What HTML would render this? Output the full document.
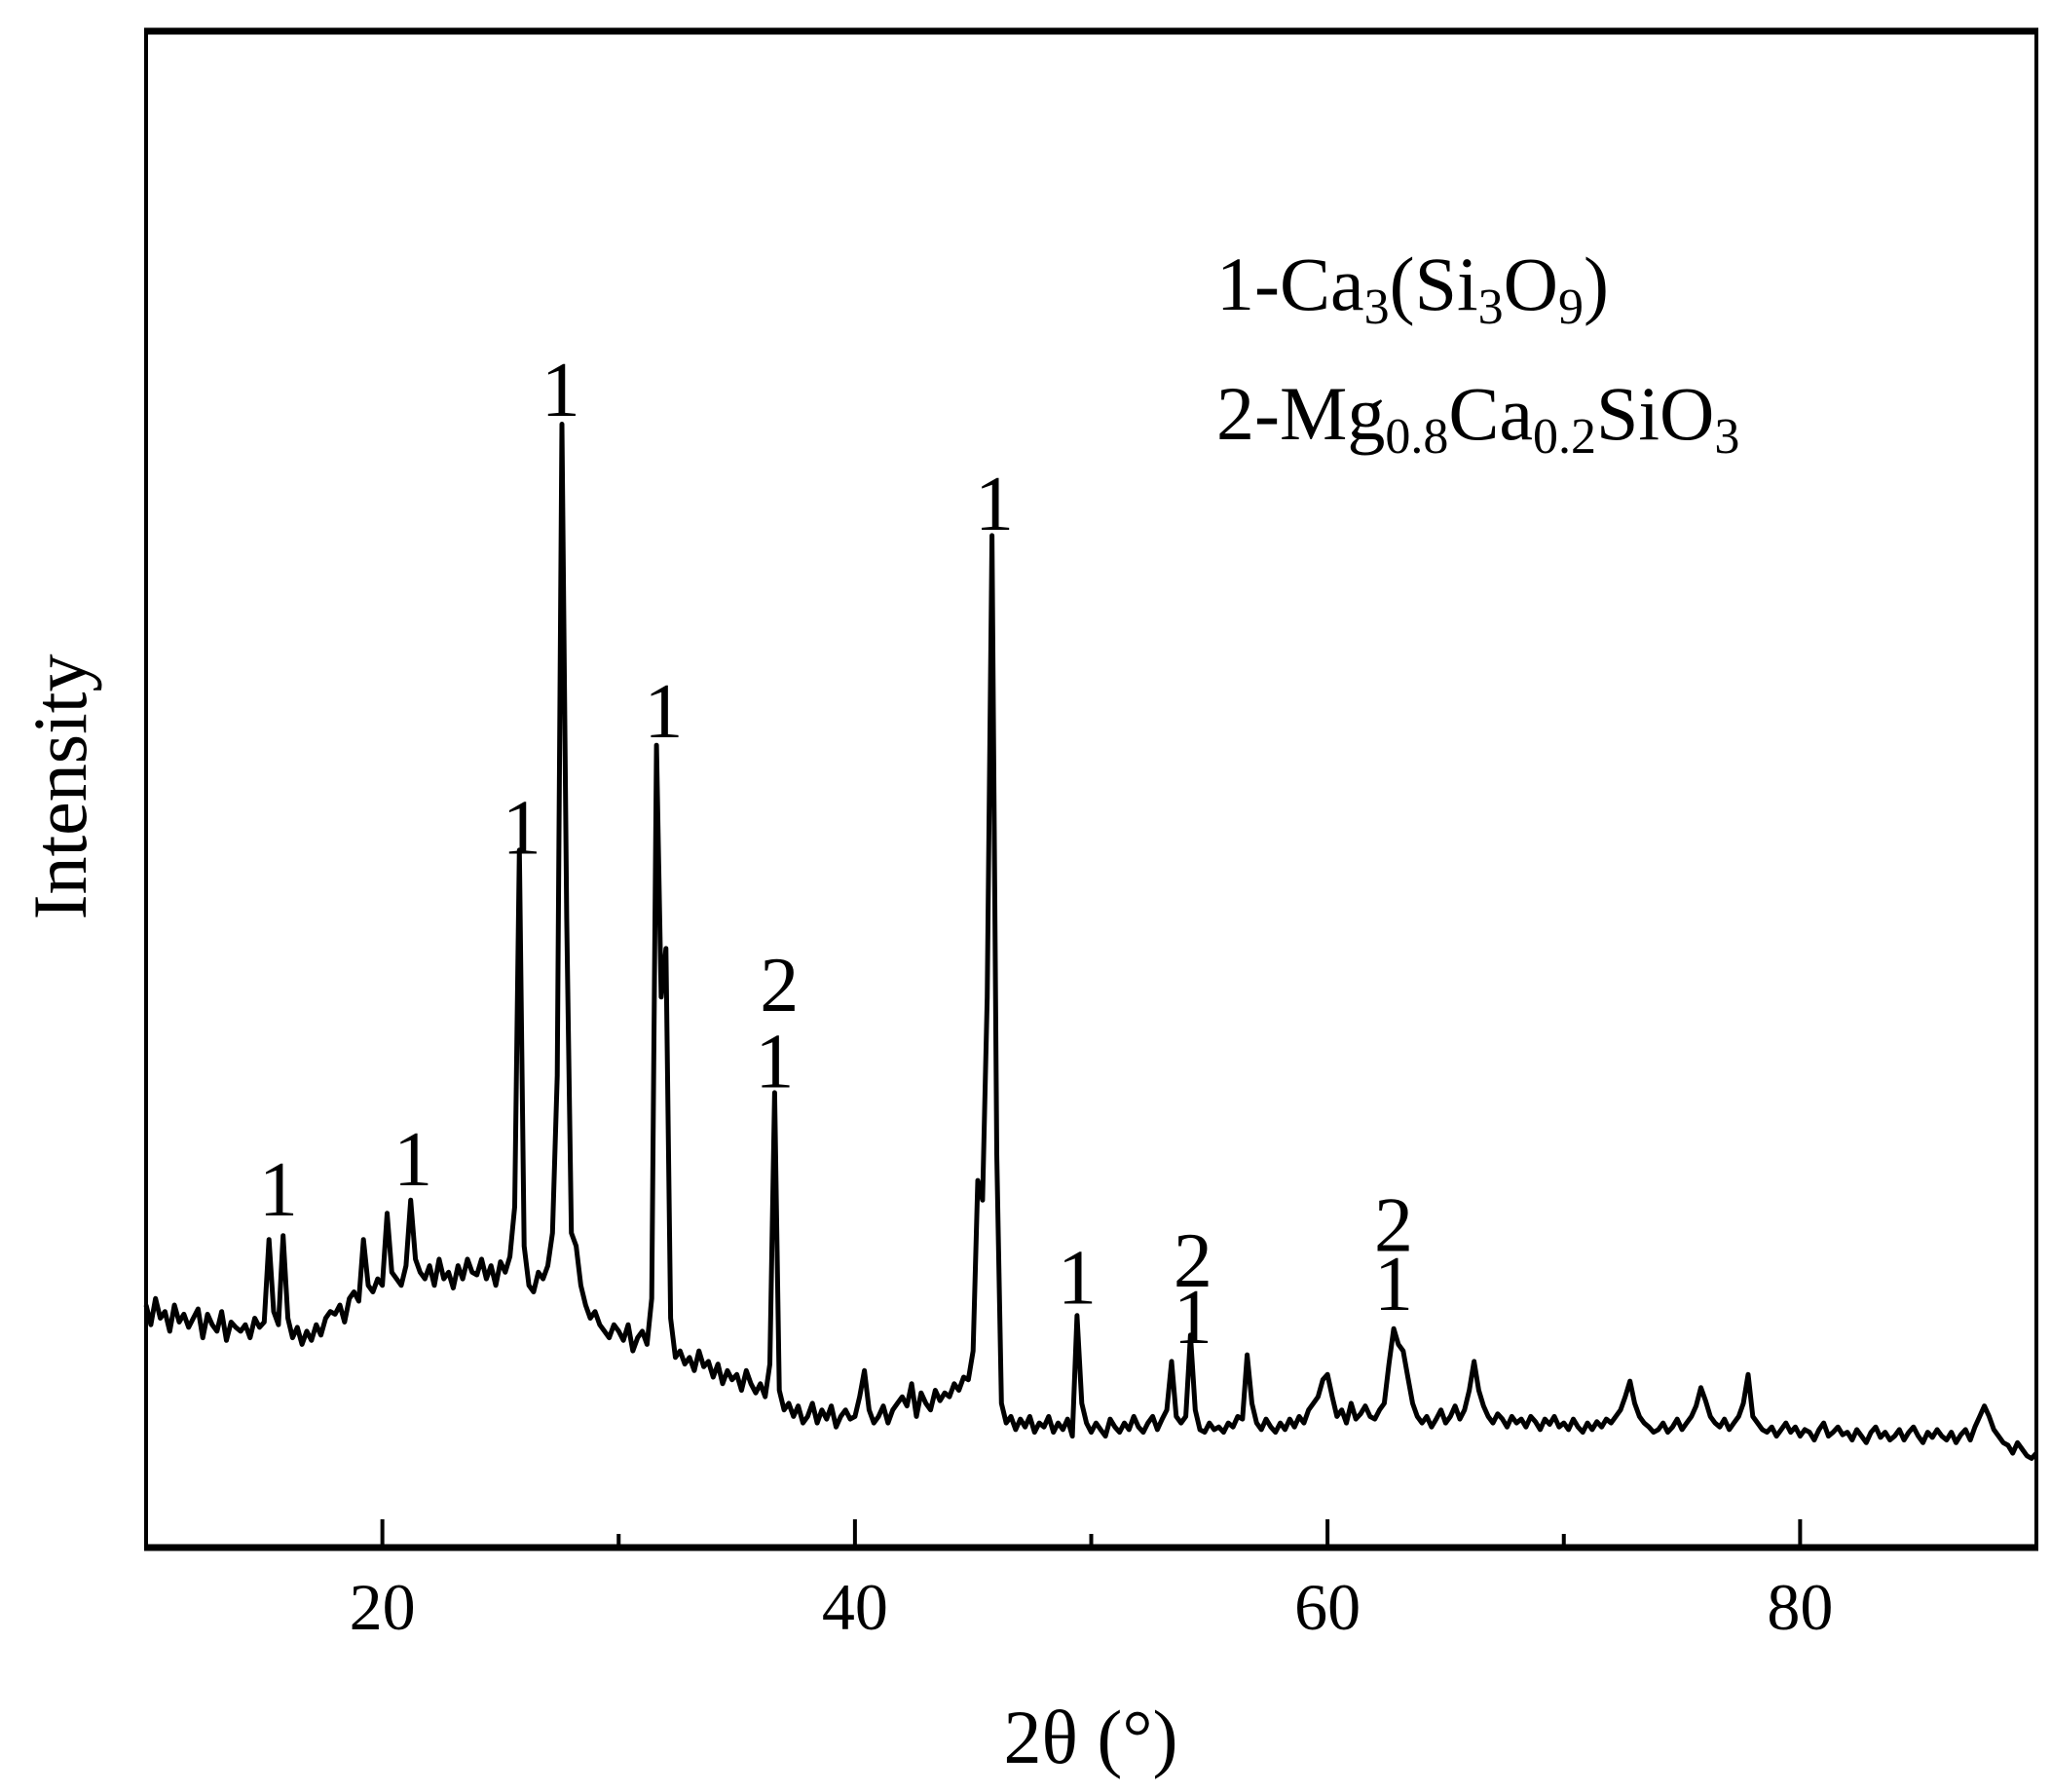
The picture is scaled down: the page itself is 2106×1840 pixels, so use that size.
<!DOCTYPE html>
<html><head><meta charset="utf-8"><style>
html,body{margin:0;padding:0;background:#fff;}
svg{display:block;font-family:"Liberation Serif",serif;}
</style></head><body>
<svg id="chart" width="2106" height="1840" viewBox="0 0 2106 1840" xmlns="http://www.w3.org/2000/svg">
<g id="plot"></g>
<g id="axes"></g>
<g id="labels"></g>
<text x="0" y="0" font-size="78" text-anchor="middle" transform="translate(88,808) rotate(-90)">Intensity</text>
<text x="1120" y="1810" font-size="78" text-anchor="middle">2θ (°)</text>
<g font-size="78">
<text x="1249" y="318">1-Ca<tspan font-size="52" dy="14">3</tspan><tspan dy="-14">(Si</tspan><tspan font-size="52" dy="14">3</tspan><tspan dy="-14">O</tspan><tspan font-size="52" dy="14">9</tspan><tspan dy="-14">)</tspan></text>
<text x="1249" y="451">2-Mg<tspan font-size="52" dy="14">0.8</tspan><tspan dy="-14">Ca</tspan><tspan font-size="52" dy="14">0.2</tspan><tspan dy="-14">SiO</tspan><tspan font-size="52" dy="14">3</tspan></text>
</g>
</svg>
<script>
const startTheta = 10;
const stepTheta = 0.2;
const intensity = [
185,170,190,175,180,165,185,172,178,168,
175,182,160,178,170,165,180,158,172,168,
165,170,160,175,168,172,235,180,170,238,
175,160,168,155,165,158,170,162,175,180,
178,185,172,190,195,188,235,200,195,205,
200,255,210,205,200,215,265,220,210,205,
215,200,220,205,210,198,215,205,220,210,
208,220,205,215,200,218,210,222,260,532,
230,200,195,210,205,215,240,360,857,480,
240,230,200,185,175,180,170,165,160,170,
165,158,170,150,160,165,155,190,612,420,
457,175,145,150,140,145,135,150,138,142,
130,140,125,135,128,132,120,135,125,118,
125,115,140,347,120,105,110,100,108,95,
100,110,95,105,98,108,92,100,105,98,
100,115,135,105,95,100,108,95,105,110,
115,108,125,100,118,110,105,120,112,118,
115,125,120,130,128,150,280,265,420,772,
300,110,95,100,90,98,92,100,88,95,
92,100,88,95,90,98,85,177,110,95,
88,95,90,85,98,92,88,95,90,100,
92,88,95,100,90,98,105,142,100,95,
100,162,105,90,88,95,90,92,88,95,
92,100,98,147,110,95,90,98,92,88,
95,90,98,92,100,95,105,110,115,128,
132,115,100,105,95,110,98,102,108,100,
98,105,110,140,167,155,150,130,110,100,
95,100,92,98,105,95,100,108,98,105,
120,142,120,108,100,95,102,98,92,100,
95,98,92,100,96,90,98,94,100,92,
95,90,98,92,88,95,90,96,92,98,
95,100,105,115,127,110,100,95,92,88,
90,95,88,92,98,90,95,100,108,122,
112,100,95,92,98,90,95,100,110,132,
100,95,90,88,92,85,90,95,88,92,
85,90,88,82,90,95,85,88,92,86,
88,82,90,85,80,88,92,84,88,82,
85,90,82,88,92,85,80,88,84,90,
85,82,88,80,86,90,82,92,100,108,
100,90,85,80,78,72,80,75,70,68,
72];
const xTicks = [20,30,40,50,60,70,80];
const xTickLabels = ["20","","40","","60","","80"];
const labelTheta = [15.6,21.3,25.9,27.55,31.9,36.8,36.6,45.9,49.4,54.3,54.3,62.8,62.8];
const labelText = ["1","1","1","1","1","2","1","1","1","2","1","2","1"];
const labelValue = [274,297,550,884,639,430,372,797,207,220,177,247,202];

const L=150,R=2091,T=32,B=1589;
const xS = t => L + (t-10)/(90-10)*(R-L);
const yS = v => B - v*1.346;
const NS="http://www.w3.org/2000/svg";
const plot=document.getElementById('plot'), axes=document.getElementById('axes'), labs=document.getElementById('labels');
function mk(tag,attrs,parent){const e=document.createElementNS(NS,tag);for(const k in attrs)e.setAttribute(k,attrs[k]);parent.appendChild(e);return e;}

let d="";
intensity.forEach((v,i)=>{const t=startTheta+i*stepTheta;d+=(i?"L":"M")+xS(t).toFixed(1)+","+yS(v).toFixed(1);});
const line=mk('path',{d:d,fill:"none",stroke:"#000","stroke-width":"5","stroke-linejoin":"round"},plot);



const frame=mk('rect',{x:L,y:T,width:R-L,height:B-T,fill:"none",stroke:"#000","stroke-width":"4"},axes);


const topL=mk('line',{x1:L-2,x2:R+2,y1:T,y2:T,stroke:"#000","stroke-width":"7"},axes);


const botL=mk('line',{x1:L-2,x2:R+2,y1:B,y2:B,stroke:"#000","stroke-width":"7"},axes);



xTicks.forEach((t,i)=>{
  const major = xTickLabels[i]!=="";
  const tk=mk('line',{x1:xS(t),x2:xS(t),y1:B,y2:B-(major?29:14),stroke:"#000","stroke-width":"4"},axes);
  
  
  if(major){
    const tl=mk('text',{x:xS(t),y:1673,"font-size":"68","text-anchor":"middle"},axes);
    tl.textContent=xTickLabels[i];
    
    
  }
});

labelTheta.forEach((t,i)=>{
  const tx=mk('text',{x:xS(t),y:yS(labelValue[i])+28,"font-size":"80","text-anchor":"middle"},labs);
  tx.textContent=labelText[i];
  
  
});
</script>
</body></html>
